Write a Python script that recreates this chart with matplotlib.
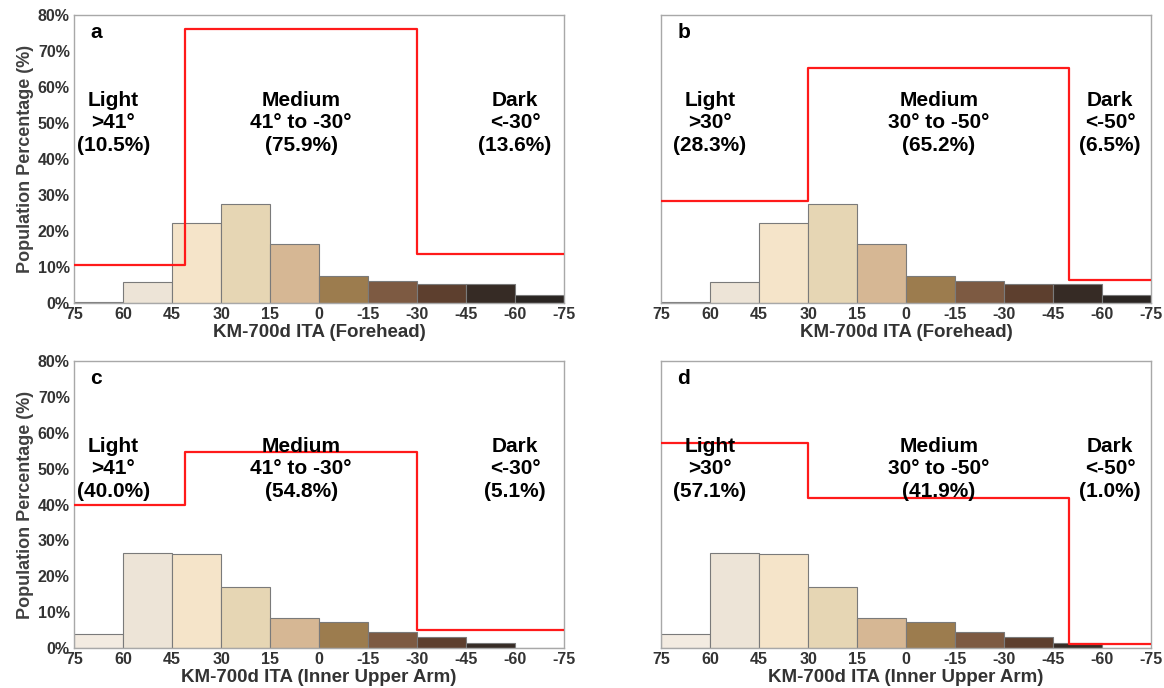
import numpy as np
import matplotlib
matplotlib.use('Agg')
import matplotlib.pyplot as plt

plt.rcParams['font.family'] = ['Liberation Sans', 'DejaVu Sans']
plt.rcParams['font.weight'] = 'bold'

# bin edges of the ITA histogram (degrees), from light to dark
bin_edges = [75, 60, 45, 30, 15, 0, -15, -30, -45, -60, -75]
bin_colors = ['#f3ebe1', '#ede4d7', '#f5e4c9', '#e6d6b4', '#d6b794',
              '#9c7c4e', '#7d5a42', '#5d3f2e', '#362b25', '#2a2522']

# population percentage per bin
forehead_pct = [0.2, 5.8, 22.3, 27.4, 16.4, 7.6, 6.2, 5.3, 5.3, 2.3]
arm_pct = [4.0, 26.6, 26.1, 17.0, 8.5, 7.2, 4.6, 3.1, 1.5, 0.0]

# category thresholds and shares
cut_a = [41, -30]
cut_b = [30, -50]
share_a = [10.5, 75.9, 13.6]
share_b = [28.3, 65.2, 6.5]
share_c = [40.0, 54.8, 5.1]
share_d = [57.1, 41.9, 1.0]

xlabels = ['KM-700d ITA (Forehead)', 'KM-700d ITA (Forehead)',
           'KM-700d ITA (Inner Upper Arm)', 'KM-700d ITA (Inner Upper Arm)']

fig = plt.figure(figsize=(11.64, 6.88), dpi=100)

positions = [[0.0636, 0.5596, 0.421, 0.419],
             [0.5679, 0.5596, 0.421, 0.419],
             [0.0636, 0.0581, 0.421, 0.417],
             [0.5679, 0.0581, 0.421, 0.417]]

panels = [('a', forehead_pct, cut_a, share_a, [63, 5.5, -60]),
          ('b', forehead_pct, cut_b, share_b, [60, -10, -62.5]),
          ('c', arm_pct, cut_a, share_c, [63, 5.5, -60]),
          ('d', arm_pct, cut_b, share_d, [60, -10, -62.5])]

for i, (letter, pct, cuts, shares, txt_x) in enumerate(panels):
    ax = fig.add_axes(positions[i])
    lefts = bin_edges[:-1]
    ax.bar(lefts, pct, width=-15, align='edge', color=bin_colors,
           edgecolor='#7a7a7a', linewidth=0.8, zorder=2)

    # red step line for Light / Medium / Dark shares
    xs = [75, cuts[0], cuts[0], cuts[1], cuts[1], -75]
    ys = [shares[0], shares[0], shares[1], shares[1], shares[2], shares[2]]
    ax.plot(xs, ys, color='#ff1a1a', linewidth=1.6, zorder=3)

    if cuts[0] == 41:
        ranges = ['>41°', '41° to -30°', '<-30°']
    else:
        ranges = ['>30°', '30° to -50°', '<-50°']
    names = ['Light', 'Medium', 'Dark']
    for k in range(3):
        ax.text(txt_x[k], 50, '%s\n%s\n(%.1f%%)' % (names[k], ranges[k], shares[k]),
                ha='center', va='center', fontsize=15, fontweight='bold',
                color='black', linespacing=1.22, zorder=4)

    ax.text(0.033, 0.94, letter, transform=ax.transAxes, fontsize=15,
            fontweight='bold', va='center', ha='left')

    ax.set_xlim(75, -75)
    ax.set_ylim(0, 80)
    ax.set_xticks(bin_edges)
    ax.set_xticklabels([str(v) for v in bin_edges])
    ax.tick_params(length=0, labelsize=11.5, labelcolor='#333333', pad=3)
    for lab in ax.get_xticklabels():
        lab.set_fontweight('bold')
    if i % 2 == 0:
        ax.set_yticks(range(0, 81, 10))
        ax.set_yticklabels(['%d%%' % v for v in range(0, 81, 10)])
        for lab in ax.get_yticklabels():
            lab.set_fontweight('bold')
        ax.set_ylabel('Population Percentage (%)', fontsize=13,
                      fontweight='bold', color='#404040', labelpad=3)
    else:
        ax.set_yticks([])
    ax.set_xlabel(xlabels[i], fontsize=13.5, fontweight='bold',
                  color='#333333', labelpad=1)
    for sp in ax.spines.values():
        sp.set_color('#a8a8a8')
        sp.set_linewidth(1.0)

fig.savefig('out.png', dpi=100)
